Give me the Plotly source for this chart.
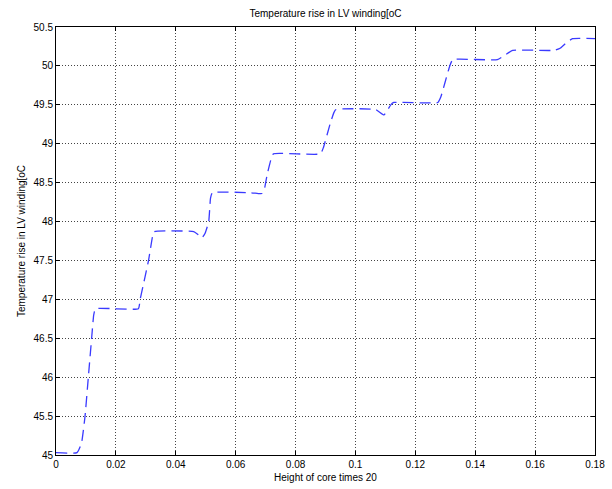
import plotly.graph_objects as go

height = [0, 0.007, 0.0085, 0.0097, 0.0108, 0.0119, 0.0126, 0.0132,
          0.0275, 0.0281, 0.0309, 0.0322, 0.0328,
          0.046, 0.0475, 0.0487, 0.0498, 0.051, 0.0516, 0.0522,
          0.065, 0.0675, 0.0688, 0.0695, 0.0705, 0.0718, 0.0726,
          0.0883, 0.0893, 0.0915, 0.0928, 0.0935,
          0.1067, 0.1095, 0.1105, 0.1118, 0.1128,
          0.1275, 0.1285, 0.130, 0.1315, 0.1325,
          0.1474, 0.150, 0.1525,
          0.1665, 0.1685, 0.1705, 0.1725, 0.18]
temp_rise = [45.03, 45.03, 45.15, 45.5, 46.0, 46.5, 46.8, 46.88,
             46.88, 47.0, 47.5, 47.8, 47.87,
             47.87, 47.83, 47.79, 47.85, 48.0, 48.3, 48.37,
             48.37, 48.36, 48.36, 48.4, 48.6, 48.8, 48.87,
             48.87, 48.95, 49.25, 49.4, 49.44,
             49.44, 49.37, 49.42, 49.5, 49.53,
             49.53, 49.6, 49.8, 50.0, 50.08,
             50.08, 50.14, 50.2,
             50.2, 50.23, 50.3, 50.35, 50.35]

x_ticks = [0, 0.02, 0.04, 0.06, 0.08, 0.1, 0.12, 0.14, 0.16, 0.18]
x_labels = ["0", "0.02", "0.04", "0.06", "0.08", "0.1", "0.12", "0.14", "0.16", "0.18"]
y_ticks = [45, 45.5, 46, 46.5, 47, 47.5, 48, 48.5, 49, 49.5, 50, 50.5]
y_labels = ["45", "45.5", "46", "46.5", "47", "47.5", "48", "48.5", "49", "49.5", "50", "50.5"]

fig = go.Figure()
fig.add_trace(go.Scatter(
    x=height, y=temp_rise, mode="lines",
    line=dict(color="#3a3aff", width=1.3, dash="11px,6px", shape="spline", smoothing=0.4),
    showlegend=False, hoverinfo="skip"))

font = dict(family="Liberation Sans", size=10, color="black")
axis_common = dict(
    showgrid=True, gridcolor="#444444", griddash="1px,2px", gridwidth=1,
    showline=True, linecolor="black", linewidth=1, mirror="allticks",
    ticks="inside", ticklen=4, tickcolor="black", zeroline=False,
    tickfont=font, automargin=False)

fig.update_layout(
    width=612, height=489,
    margin=dict(l=56, r=17, t=27, b=34),
    paper_bgcolor="white", plot_bgcolor="white",
    title=dict(text="Temperature rise in LV winding[oC", x=(56 + 595) / 2 / 612, xanchor="center",
               y=1 - 13 / 489, yanchor="middle", font=font),
    xaxis=dict(range=[0, 0.18], tickvals=x_ticks, ticktext=x_labels,
               title=dict(text="Height of core times 20", font=font, standoff=4),
               **axis_common),
    yaxis=dict(range=[45, 50.5], tickvals=y_ticks, ticktext=y_labels,
               title=dict(text="Temperature rise in LV winding[oC", font=font, standoff=6),
               **axis_common),
)

fig.write_html("out.html", config={"displayModeBar": False},
               post_script="document.body.style.margin='0';")
